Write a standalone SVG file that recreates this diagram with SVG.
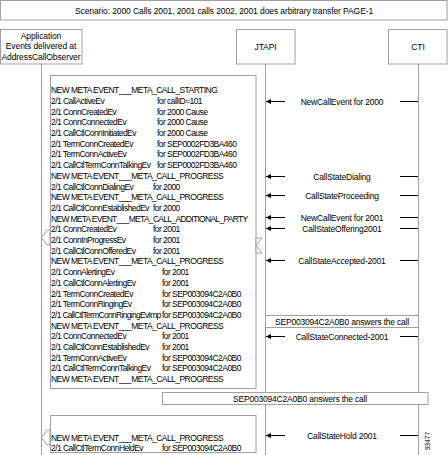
<svg xmlns="http://www.w3.org/2000/svg" width="448" height="455" viewBox="0 0 448 455">
<defs>
<style>
text{font-family:"Liberation Sans",Arial,sans-serif;fill:#000}
.box{fill:#fff;stroke:#a0a0a0;stroke-width:1}
.life{stroke:#a0a0a0;stroke-width:1;fill:none}
.hdr{font-size:8.5px;text-anchor:middle;letter-spacing:-0.1px}
.ev{font-size:8.5px;letter-spacing:-0.55px}
.tight{letter-spacing:-0.7px}
.lbl{font-size:8.5px;text-anchor:middle;letter-spacing:-0.2px}
.msg{stroke:#000;stroke-width:1;fill:none}
.hol{fill:#fff;stroke:#a0a0a0;stroke-width:1}
</style>
<marker id="ah" viewBox="0 0 10 10" refX="10" refY="5" markerWidth="7" markerHeight="5" orient="auto" markerUnits="userSpaceOnUse">
<path d="M0,0 L10,5 L0,10 z" fill="#000"/>
</marker>
</defs>
<rect width="448" height="455" fill="#fff"/>
<g id="title">
<rect class="box" x="0.5" y="0.5" width="446.5" height="19.5"/>
<text class="hdr" x="224" y="13.5">Scenario: 2000 Calls 2001, 2001 calls 2002, 2001 does arbitrary transfer PAGE-1</text>
</g>
<g id="lifelines">
<line class="life" x1="41.5" y1="64" x2="41.5" y2="455"/>
<line class="life" x1="265.5" y1="64" x2="265.5" y2="455"/>
<line class="life" x1="418.5" y1="64" x2="418.5" y2="455"/>
</g>
<g id="app">
<rect class="box" x="0.5" y="29.5" width="81.5" height="34.5"/>
<text class="hdr" x="41" y="38.5">Application</text>
<text class="hdr" x="41" y="49">Events delivered at</text>
<text class="hdr" x="41" y="59.5">AddressCallObserver</text>
</g>
<g id="jtapi">
<rect class="box" x="236.5" y="29.5" width="58.5" height="34.5"/>
<text class="hdr" x="265.5" y="50">JTAPI</text>
</g>
<g id="cti">
<rect class="box" x="388.5" y="29.5" width="58.5" height="34.5"/>
<text class="hdr" x="418" y="50">CTI</text>
</g>
<g id="events-main">
<rect class="box" x="50.5" y="75.5" width="205.5" height="313"/>
<g class="ev">
<text x="51" y="93.2">NEW META EVENT___META_CALL_STARTING</text>
<text x="51" y="103.9">2/1 CallActiveEv</text><text x="157" y="103.9">for callID=101</text>
<text x="51" y="114.6">2/1 ConnCreatedEv</text><text x="157" y="114.6">for 2000 Cause</text>
<text x="51" y="125.3">2/1 ConnConnectedEv</text><text x="157" y="125.3">for 2000 Cause</text>
<text x="51" y="136">2/1 CallCtlConnInitiatedEv</text><text x="157" y="136">for 2000 Cause</text>
<text x="51" y="146.7">2/1 TermConnCreatedEv</text><text x="157" y="146.7">for SEP0002FD3BA460</text>
<text x="51" y="157.4">2/1 TermConnActiveEv</text><text x="157" y="157.4">for SEP0002FD3BA460</text>
<text x="51" y="168.1">2/1 CallCtlTermConnTalkingEv</text><text x="157" y="168.1">for SEP0002FD3BA460</text>
<text x="51" y="178.8">NEW META EVENT___META_CALL_PROGRESS</text>
<text x="51" y="189.5">2/1 CallCtlConnDialingEv</text><text x="153" y="189.5">for 2000</text>
<text x="51" y="200.2">NEW META EVENT___META_CALL_PROGRESS</text>
<text x="51" y="210.9">2/1 CallCtlConnEstablishedEv</text><text x="153" y="210.9">for 2000</text>
<text x="51" y="221.6" class="tight">NEW META EVENT___META_CALL_ADDITIONAL_PARTY</text>
<text x="51" y="232.3">2/1 ConnCreatedEv</text><text x="153" y="232.3">for 2001</text>
<text x="51" y="243">2/1 ConnInProgressEv</text><text x="153" y="243">for 2001</text>
<text x="51" y="253.7">2/1 CallCtlConnOfferedEv</text><text x="153" y="253.7">for 2001</text>
<text x="51" y="264.4">NEW META EVENT___META_CALL_PROGRESS</text>
<text x="51" y="275.1">2/1 ConnAlertingEv</text><text x="162" y="275.1">for 2001</text>
<text x="51" y="285.8">2/1 CallCtlConnAlertingEv</text><text x="162" y="285.8">for 2001</text>
<text x="51" y="296.5">2/1 TermConnCreatedEv</text><text x="162" y="296.5">for SEP003094C2A0B0</text>
<text x="51" y="307.2">2/1 TermConnRingingEv</text><text x="162" y="307.2">for SEP003094C2A0B0</text>
<text x="51" y="317.9" class="tight">2/1 CallCtlTermConnRingingEvImp</text><text x="162" y="317.9">for SEP003094C2A0B0</text>
<text x="51" y="328.6">NEW META EVENT___META_CALL_PROGRESS</text>
<text x="51" y="339.3">2/1 ConnConnectedEv</text><text x="162" y="339.3">for 2001</text>
<text x="51" y="350">2/1 CallCtlConnEstablishedEv</text><text x="162" y="350">for 2001</text>
<text x="51" y="360.7">2/1 TermConnActiveEv</text><text x="162" y="360.7">for SEP003094C2A0B0</text>
<text x="51" y="371.4">2/1 CallCtlTermConnTalkingEv</text><text x="162" y="371.4">for SEP003094C2A0B0</text>
<text x="51" y="382.1">NEW META EVENT___META_CALL_PROGRESS</text>
</g>
</g>
<g id="events-held">
<rect class="box" x="50.5" y="415.5" width="205.5" height="37"/>
<g class="ev">
<text x="51" y="440.9">NEW META EVENT___META_CALL_PROGRESS</text>
<text x="51" y="451.2">2/1 CallCtlTermConnHeldEv</text><text x="162" y="451.2">for SEP003094C2A0B0</text>
</g>
</g>
<g id="note-jtapi-cti">
<rect class="box" x="265.5" y="315.5" width="153" height="12"/>
<text class="lbl" x="342" y="324.5">SEP003094C2A0B0 answers the call</text>
</g>
<g id="note-wide">
<rect class="box" x="162.5" y="392.5" width="265.5" height="12"/>
<text class="lbl" x="300" y="401.5">SEP003094C2A0B0 answers the call</text>
</g>
<g id="connectors">
<polygon class="hol" points="50,230 47,230 41.5,237.5 47,245 50,245"/>
<polygon class="hol" points="256,238 262,238 256,245.5 262,253 256,253"/>
<polygon class="hol" points="50,430 47,430 41.5,437.5 47,445 50,445"/>
<g class="msg">
<line x1="285" y1="101.5" x2="266" y2="101.5" marker-end="url(#ah)"/><line x1="400" y1="101.5" x2="418" y2="101.5"/>
<line x1="285" y1="176.5" x2="266" y2="176.5" marker-end="url(#ah)"/><line x1="400" y1="176.5" x2="418" y2="176.5"/>
<line x1="285" y1="195.5" x2="266" y2="195.5" marker-end="url(#ah)"/><line x1="400" y1="195.5" x2="418" y2="195.5"/>
<line x1="285" y1="217.5" x2="266" y2="217.5" marker-end="url(#ah)"/><line x1="400" y1="217.5" x2="418" y2="217.5"/>
<line x1="285" y1="228.5" x2="266" y2="228.5" marker-end="url(#ah)"/><line x1="400" y1="228.5" x2="418" y2="228.5"/>
<line x1="285" y1="260.5" x2="266" y2="260.5" marker-end="url(#ah)"/><line x1="400" y1="260.5" x2="418" y2="260.5"/>
<line x1="285" y1="336.5" x2="266" y2="336.5" marker-end="url(#ah)"/><line x1="400" y1="336.5" x2="418" y2="336.5"/>
<line x1="285" y1="435.5" x2="266" y2="435.5" marker-end="url(#ah)"/><line x1="400" y1="435.5" x2="418" y2="435.5"/>
</g>
<g class="lbl">
<text x="342" y="104.5">NewCallEvent for 2000</text>
<text x="342" y="179.5">CallStateDialing</text>
<text x="342" y="198.5">CallStateProceeding</text>
<text x="342" y="220.5">NewCallEvent for 2001</text>
<text x="342" y="231.5">CallStateOffering2001</text>
<text x="342" y="263.5">CallStateAccepted-2001</text>
<text x="342" y="339.5">CallStateConnected-2001</text>
<text x="342" y="438.5">CallStateHold 2001</text>
</g>
</g>
<text x="430" y="450" transform="rotate(-90 430 450)" style="font-size:6.5px">93477</text>
</svg>
